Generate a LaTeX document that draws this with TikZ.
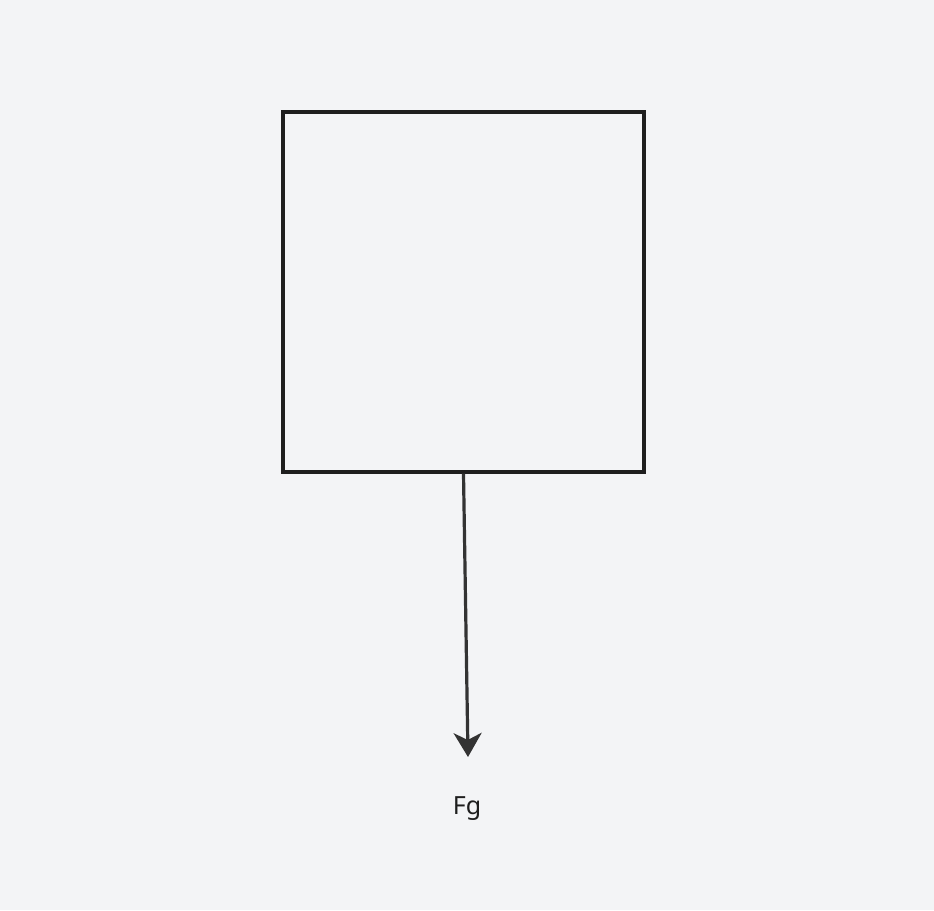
\documentclass[tikz,border=0pt]{standalone}
\usepackage{fontspec}
\setmainfont{Noto Sans}
\usetikzlibrary{arrows.meta}
\definecolor{bg}{HTML}{F3F4F6}
\definecolor{ink}{HTML}{1E1E1E}
\definecolor{arrowink}{HTML}{333333}
\tikzset{
  body/.style={draw=ink, line width=3.4pt, minimum width=361pt, minimum height=360pt, inner sep=0pt},
  force/.style={draw=arrowink, line width=3.2pt, -{Stealth[length=24pt,width=28pt,inset=7pt]}},
  lbl/.style={font=\fontsize{25}{30}\selectfont, text=ink, inner sep=0pt}
}
\begin{document}
\begin{tikzpicture}[x=1pt,y=-1pt]
\fill[bg] (0,0) rectangle (934,910);
\useasboundingbox (0,0) rectangle (934,910);
\node[body] (box) at (463.5,292) {};
\coordinate (tip) at (468,757);
\draw[force] (box.south) -- (tip);
\node[lbl] (fg) at (467,809) {Fg};
\end{tikzpicture}
\end{document}
